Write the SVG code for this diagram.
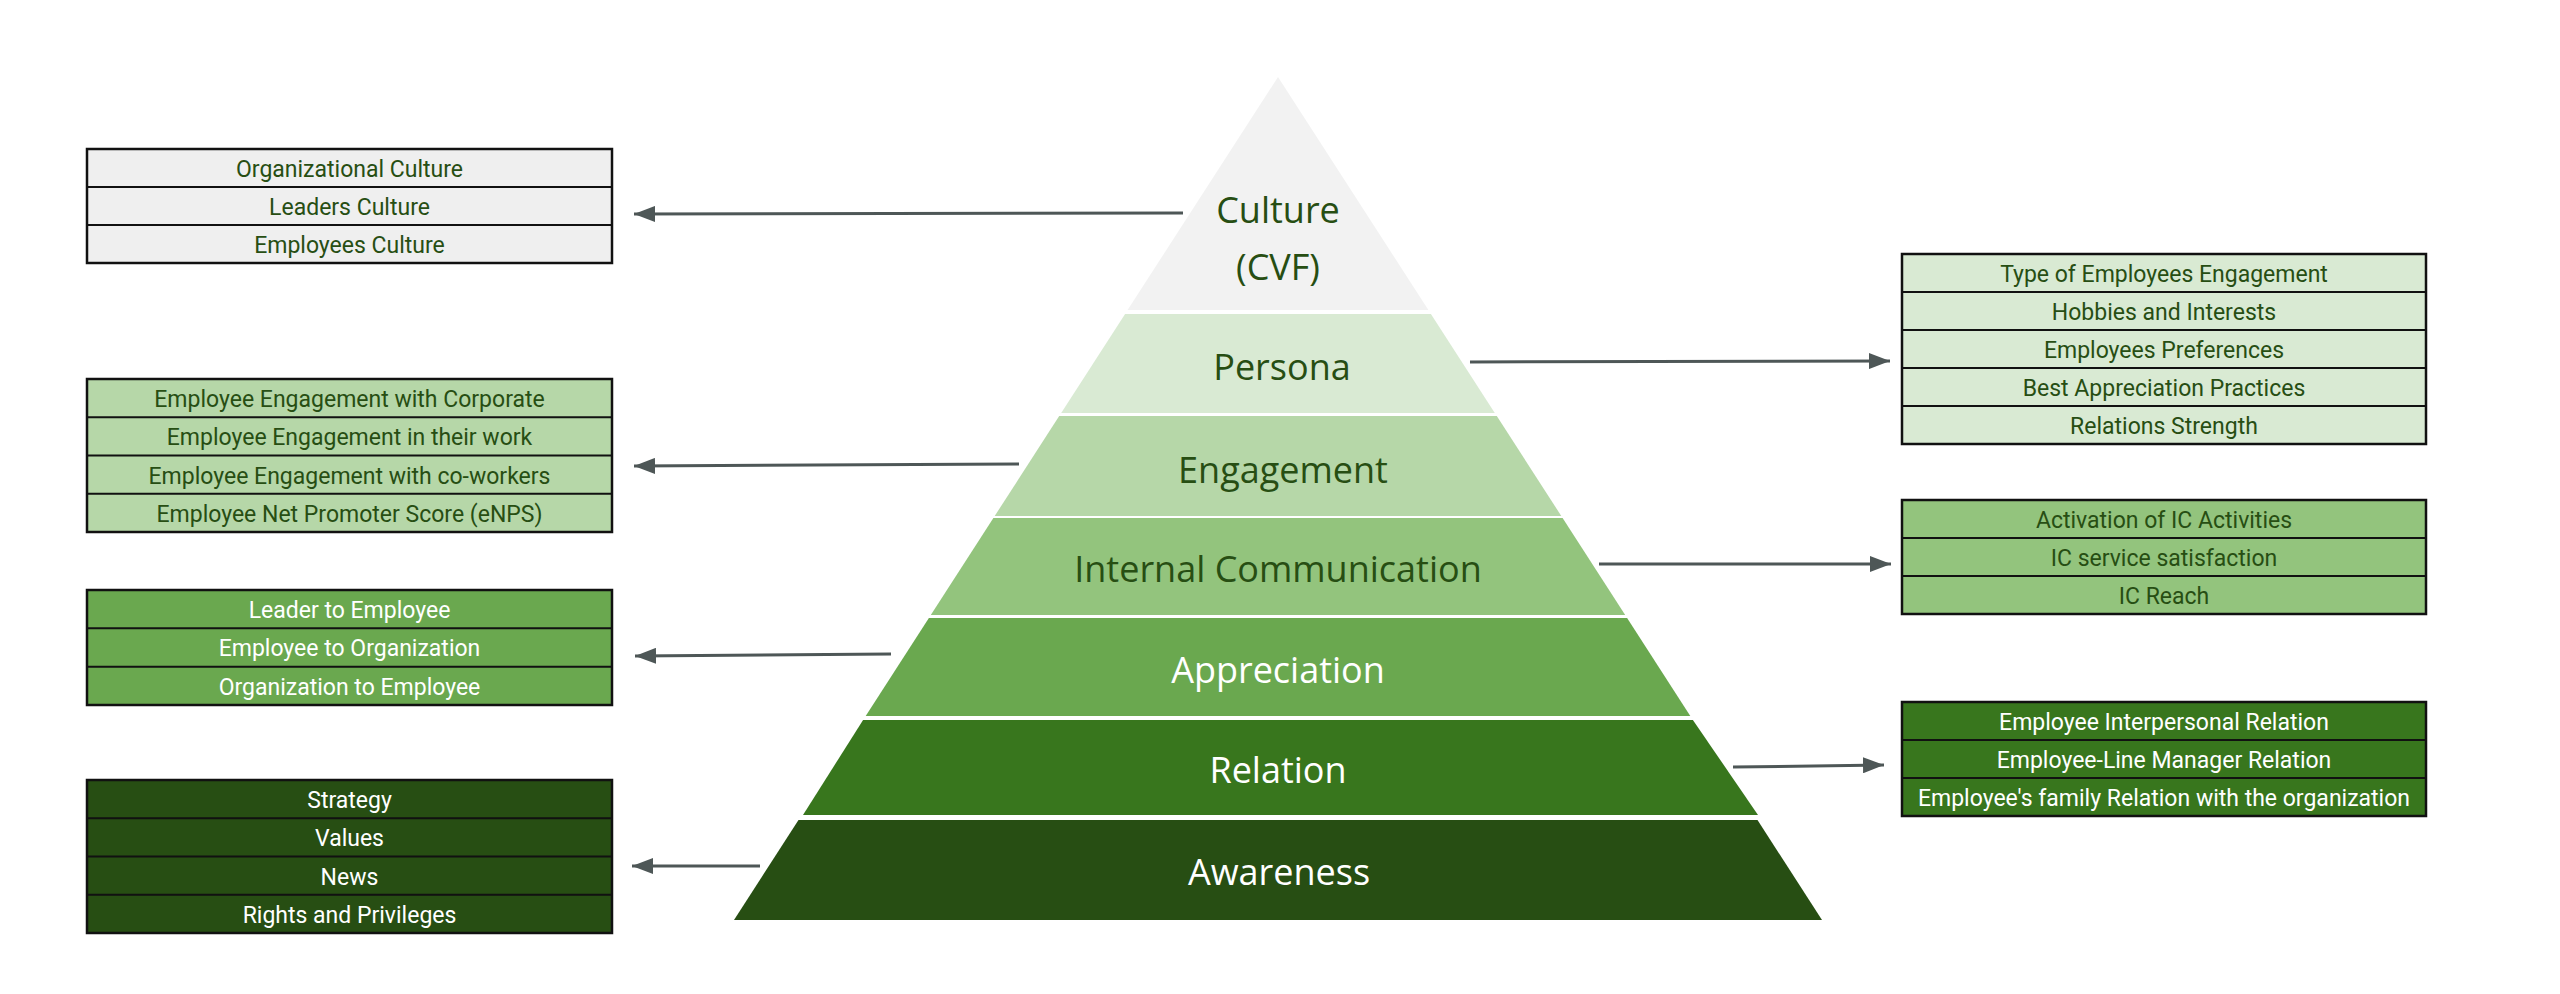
<svg xmlns="http://www.w3.org/2000/svg" width="2560" height="994" viewBox="0 0 2560 994">
<style>
.lvl{font-family:"Open Sans","Noto Sans",sans-serif;font-size:36px;text-anchor:middle}
.dk{fill:#274e13}
.wt{fill:#ffffff}
.item{font-family:Roboto,"Noto Sans",sans-serif;font-size:23px;text-anchor:middle}
.box{stroke:#111111;stroke-width:2.5}
.sep{stroke:#111111;stroke-width:2}
.arr{stroke:#4e5757;stroke-width:3;fill:none;marker-end:url(#ah)}
</style>
<defs>
<marker id="ah" markerUnits="userSpaceOnUse" markerWidth="22" markerHeight="16" refX="21" refY="8" orient="auto">
<path d="M0,0 L21,8 L0,16 z" fill="#4e5757"/>
</marker>
</defs>
<rect x="0" y="0" width="2560" height="994" fill="#ffffff"/>

<g id="pyramid">
<g id="lvl-culture">
<polygon points="1278,77 1428.4,310 1127.6,310" fill="#f2f2f2"/>
<text class="lvl dk" x="1278" y="223">Culture</text>
<text class="lvl dk" x="1278" y="280">(CVF)</text>
</g>
<g id="lvl-persona">
<polygon points="1125.1,314 1430.9,314 1494.8,413 1061.2,413" fill="#d9ead3"/>
<text class="lvl dk" x="1282" y="380">Persona</text>
</g>
<g id="lvl-engagement">
<polygon points="1059.2,416 1496.8,416 1561.3,516 994.7,516" fill="#b6d7a8"/>
<text class="lvl dk" x="1283" y="483">Engagement</text>
</g>
<g id="lvl-ic">
<polygon points="993.4,518 1562.6,518 1625.2,615 930.8,615" fill="#93c47d"/>
<text class="lvl dk" x="1278" y="582">Internal Communication</text>
</g>
<g id="lvl-appreciation">
<polygon points="928.9,618 1627.1,618 1690.3,716 865.7,716" fill="#6aa84f"/>
<text class="lvl wt" x="1278" y="683">Appreciation</text>
</g>
<g id="lvl-relation">
<polygon points="863.1,720 1692.9,720 1758,815 803,815" fill="#38761d"/>
<text class="lvl wt" x="1278" y="783">Relation</text>
</g>
<g id="lvl-awareness">
<polygon points="798.5,820 1757.5,820 1822,920 734,920" fill="#274e13"/>
<text class="lvl wt" x="1279" y="885">Awareness</text>
</g>
</g>

<g id="box-culture">
<rect class="box" x="87" y="149" width="525" height="114" fill="#efefef"/>
<line class="sep" x1="87" y1="187" x2="612" y2="187"/>
<line class="sep" x1="87" y1="225" x2="612" y2="225"/>
<text class="item dk" x="349.5" y="177">Organizational Culture</text>
<text class="item dk" x="349.5" y="215">Leaders Culture</text>
<text class="item dk" x="349.5" y="253">Employees Culture</text>
</g>

<g id="box-engagement">
<rect class="box" x="87" y="379" width="525" height="153" fill="#b6d7a8"/>
<line class="sep" x1="87" y1="417.25" x2="612" y2="417.25"/>
<line class="sep" x1="87" y1="455.5" x2="612" y2="455.5"/>
<line class="sep" x1="87" y1="493.75" x2="612" y2="493.75"/>
<text class="item dk" x="349.5" y="407">Employee Engagement with Corporate</text>
<text class="item dk" x="349.5" y="445">Employee Engagement in their work</text>
<text class="item dk" x="349.5" y="484">Employee Engagement with co-workers</text>
<text class="item dk" x="349.5" y="522">Employee Net Promoter Score (eNPS)</text>
</g>

<g id="box-appreciation">
<rect class="box" x="87" y="590" width="525" height="115" fill="#6aa84f"/>
<line class="sep" x1="87" y1="628.3" x2="612" y2="628.3"/>
<line class="sep" x1="87" y1="666.7" x2="612" y2="666.7"/>
<text class="item wt" x="349.5" y="618">Leader to Employee</text>
<text class="item wt" x="349.5" y="656">Employee to Organization</text>
<text class="item wt" x="349.5" y="695">Organization to Employee</text>
</g>

<g id="box-awareness">
<rect class="box" x="87" y="780" width="525" height="153" fill="#274e13"/>
<line class="sep" x1="87" y1="818.25" x2="612" y2="818.25"/>
<line class="sep" x1="87" y1="856.5" x2="612" y2="856.5"/>
<line class="sep" x1="87" y1="894.75" x2="612" y2="894.75"/>
<text class="item wt" x="349.5" y="808">Strategy</text>
<text class="item wt" x="349.5" y="846">Values</text>
<text class="item wt" x="349.5" y="885">News</text>
<text class="item wt" x="349.5" y="923">Rights and Privileges</text>
</g>

<g id="box-persona">
<rect class="box" x="1902" y="254" width="524" height="190" fill="#d9ead3"/>
<line class="sep" x1="1902" y1="292" x2="2426" y2="292"/>
<line class="sep" x1="1902" y1="330" x2="2426" y2="330"/>
<line class="sep" x1="1902" y1="368" x2="2426" y2="368"/>
<line class="sep" x1="1902" y1="406" x2="2426" y2="406"/>
<text class="item dk" x="2164" y="282">Type of Employees Engagement</text>
<text class="item dk" x="2164" y="320">Hobbies and Interests</text>
<text class="item dk" x="2164" y="358">Employees Preferences</text>
<text class="item dk" x="2164" y="396">Best Appreciation Practices</text>
<text class="item dk" x="2164" y="434">Relations Strength</text>
</g>

<g id="box-ic">
<rect class="box" x="1902" y="500" width="524" height="114" fill="#93c47d"/>
<line class="sep" x1="1902" y1="538" x2="2426" y2="538"/>
<line class="sep" x1="1902" y1="576" x2="2426" y2="576"/>
<text class="item dk" x="2164" y="528">Activation of IC Activities</text>
<text class="item dk" x="2164" y="566">IC service satisfaction</text>
<text class="item dk" x="2164" y="604">IC Reach</text>
</g>

<g id="box-relation">
<rect class="box" x="1902" y="702" width="524" height="114" fill="#38761d"/>
<line class="sep" x1="1902" y1="740" x2="2426" y2="740"/>
<line class="sep" x1="1902" y1="778" x2="2426" y2="778"/>
<text class="item wt" x="2164" y="730">Employee Interpersonal Relation</text>
<text class="item wt" x="2164" y="768">Employee-Line Manager Relation</text>
<text class="item wt" x="2164" y="806">Employee's family Relation with the organization</text>
</g>

<g id="connectors">
<line class="arr" x1="1183" y1="213" x2="634" y2="214"/>
<line class="arr" x1="1470" y1="362" x2="1890" y2="361"/>
<line class="arr" x1="1019" y1="464" x2="634" y2="466"/>
<line class="arr" x1="1599" y1="564" x2="1891" y2="564"/>
<line class="arr" x1="891" y1="654" x2="635" y2="656"/>
<line class="arr" x1="1733" y1="767" x2="1884" y2="765"/>
<line class="arr" x1="760" y1="866" x2="632" y2="866"/>
</g>
</svg>
